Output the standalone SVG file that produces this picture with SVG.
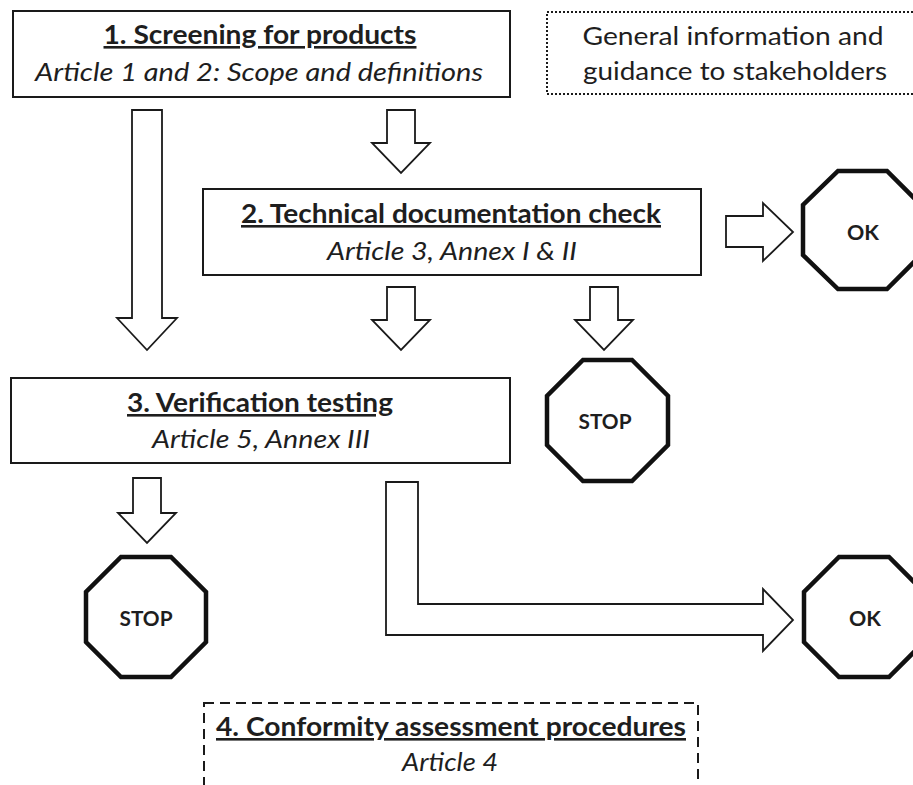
<svg xmlns="http://www.w3.org/2000/svg" width="913" height="785" viewBox="0 0 913 785">
<style>
  .box{fill:#fff;stroke:#1a1a1a;stroke-width:2}
  .dotted{fill:#fff;stroke:#1a1a1a;stroke-width:2;stroke-dasharray:2 2}
  .dashed{fill:#fff;stroke:#1a1a1a;stroke-width:2;stroke-dasharray:10 6}
  .arrow{fill:#fff;stroke:#1a1a1a;stroke-width:1.8;stroke-linejoin:miter}
  .oct{fill:#fff;stroke:#111;stroke-width:4.5;stroke-linejoin:miter}
  text{font-family:Lato,"Open Sans","Liberation Sans",sans-serif;fill:#1e1e1e;text-anchor:middle}
  .title{font-size:26px;font-weight:bold;text-decoration:underline}
  .sub{font-size:25px;font-style:italic}
  .info{font-size:25px}
  .sign{font-size:21px;font-weight:bold}
</style>
<rect width="913" height="785" fill="#fff"/>

<g id="node-screening">
  <rect class="box" x="13" y="11" width="497" height="86"/>
  <text class="title" x="260" y="44" textLength="313" lengthAdjust="spacingAndGlyphs">1. Screening for products</text>
  <text class="sub" x="259" y="81" textLength="448" lengthAdjust="spacingAndGlyphs">Article 1 and 2: Scope and definitions</text>
</g>

<g id="node-general-info">
  <rect class="dotted" x="547" y="12" width="380" height="82"/>
  <text class="info" x="733" y="45" textLength="301" lengthAdjust="spacingAndGlyphs">General information and</text>
  <text class="info" x="735" y="80" textLength="304" lengthAdjust="spacingAndGlyphs">guidance to stakeholders</text>
</g>

<g id="node-technical">
  <rect class="box" x="203" y="189" width="498" height="86"/>
  <text class="title" x="451" y="223" textLength="420" lengthAdjust="spacingAndGlyphs">2. Technical documentation check</text>
  <text class="sub" x="452" y="260" textLength="250" lengthAdjust="spacingAndGlyphs">Article 3, Annex I &amp; II</text>
</g>

<g id="node-ok-top">
  <polygon class="oct" points="838,171 887,171 921,205 921,255 887,289 838,289 803,255 803,205"/>
  <text class="sign" x="863" y="240" textLength="32" lengthAdjust="spacingAndGlyphs">OK</text>
</g>

<g id="node-stop-mid">
  <polygon class="oct" points="583,360 632,360 668,396 668,445 632,481 583,481 547,445 547,396"/>
  <text class="sign" x="605" y="429" textLength="53" lengthAdjust="spacingAndGlyphs">STOP</text>
</g>

<g id="node-verification">
  <rect class="box" x="11" y="378" width="499" height="85"/>
  <text class="title" x="260" y="412" textLength="266" lengthAdjust="spacingAndGlyphs">3. Verification testing</text>
  <text class="sub" x="261" y="448" textLength="218" lengthAdjust="spacingAndGlyphs">Article 5, Annex III</text>
</g>

<g id="node-stop-bottom">
  <polygon class="oct" points="121,557 171,557 206,592 206,642 171,677 121,677 86,642 86,592"/>
  <text class="sign" x="146" y="626" textLength="53" lengthAdjust="spacingAndGlyphs">STOP</text>
</g>

<g id="node-ok-bottom">
  <polygon class="oct" points="839,557 889,557 924,592 924,642 889,677 839,677 804,642 804,592"/>
  <text class="sign" x="865" y="626" textLength="32" lengthAdjust="spacingAndGlyphs">OK</text>
</g>

<g id="node-conformity">
  <rect class="dashed" x="204" y="703" width="494" height="100"/>
  <text class="title" x="451" y="736" textLength="470" lengthAdjust="spacingAndGlyphs">4. Conformity assessment procedures</text>
  <text class="sub" x="450" y="771" textLength="96" lengthAdjust="spacingAndGlyphs">Article 4</text>
</g>

<g id="connectors">
  <polygon class="arrow" points="132,110 162,110 162,318 177,318 147,350 117,318 132,318"/>
  <polygon class="arrow" points="387,110 415,110 415,143 430,143 401,173 372,143 387,143"/>
  <polygon class="arrow" points="387,287 415,287 415,320 430,320 401,350 372,320 387,320"/>
  <polygon class="arrow" points="590,287 618,287 618,320 633,320 604,350 575,320 590,320"/>
  <polygon class="arrow" points="726,216 763,216 763,203 793,232 763,261 763,247 726,247"/>
  <polygon class="arrow" points="133,478 161,478 161,513 176,513 147,543 118,513 133,513"/>
  <polygon class="arrow" points="386,482 418,482 418,604 763,604 763,589 793,620 763,651 763,635 386,635"/>
</g>
</svg>
